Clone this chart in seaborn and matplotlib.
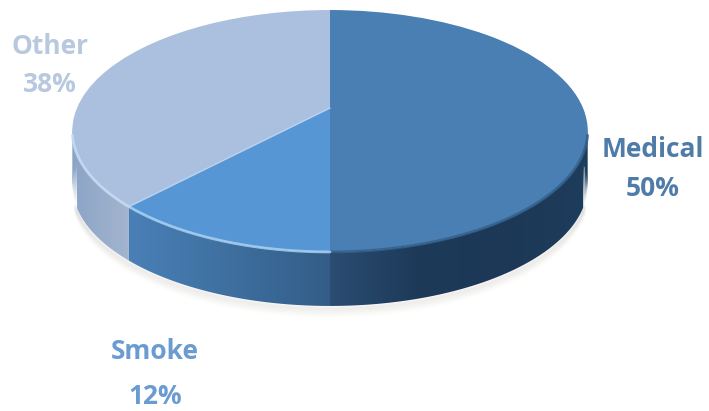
import numpy as np
import matplotlib
matplotlib.use('Agg')
import matplotlib.pyplot as plt
from matplotlib.patches import Polygon
from matplotlib.transforms import Transform
import seaborn as sns

labels = ['Medical', 'Smoke', 'Other']
shares = [50, 12, 38]
top_colors = ['#4a7fb3', '#5796d4', '#abc0df']
side_colors = [['#2b4d72', '#1d3a59', '#1c3856', '#1e3c5c'],
               ['#4a80b8', '#3e6f9f', '#335d88'],
               ['#8ba4c6', '#a3b5cf']]
rim_colors = ['#33608c', '#a9d0f2', '#c6dcf5']
text_colors = ['#4f7ba8', '#6a9bd1', '#b8c8de']

# pixel geometry of the tilted disc
APEX_X, APEX_Y = 330, 108
SCALE_X, SCALE_Y, TILT = 253, 116.6, 0.19
DEPTH = 54


class Tilt(Transform):
    # perspective of the flat pie, unit circle to pixels
    input_dims = output_dims = 2

    def transform_non_affine(self, values):
        values = np.asarray(values)
        d = 1 + TILT * values[:, 1]
        return np.column_stack([APEX_X + SCALE_X * values[:, 0] / d,
                                APEX_Y - SCALE_Y * values[:, 1] / d])


sns.set_theme(style='white')
plt.rcParams['font.family'] = ['Open Sans', 'DejaVu Sans']

fig = plt.figure(figsize=(7.09, 4.11), dpi=100)
ax = fig.add_axes([0, 0, 1, 1])
tilt = Tilt()

wedges, _ = ax.pie(shares, colors=top_colors, startangle=90, counterclock=False,
                   radius=1, wedgeprops={'linewidth': 0, 'zorder': 5})
for w in wedges:
    w.set_transform(tilt + ax.transData)


def front_arc(w, limit=0.0):
    t = np.radians(np.linspace(w.theta1, w.theta2, 300))
    t = t[np.sin(t) <= limit]
    return tilt.transform(np.column_stack([np.cos(t), np.sin(t)]))


# soft shadow under the disc
all_t = np.radians(np.linspace(200, 340, 400))
base = tilt.transform(np.column_stack([np.cos(all_t), np.sin(all_t)]))
for i in range(1, 9):
    ax.plot(base[:, 0], base[:, 1] + DEPTH + i * 1.3, color='#8a8478',
            lw=2.5, alpha=0.03 * (9 - i) / 4, zorder=1)

# side wall, one gradient per slice
for w, cols, rim in zip(wedges, side_colors, rim_colors):
    arc = front_arc(w)
    arc = arc[np.argsort(arc[:, 0])]
    wall = np.vstack([arc, arc[::-1] + [0, DEPTH]])
    cmap = sns.blend_palette(cols, as_cmap=True)
    grad = np.linspace(0, 1, 256).reshape(1, -1)
    im = ax.imshow(grad, cmap=cmap, aspect='auto', zorder=3,
                   extent=[arc[:, 0].min(), arc[:, 0].max(), arc[:, 1].max() + DEPTH, arc[:, 1].min()])
    im.set_clip_path(Polygon(wall, transform=ax.transData))
    # bevel along the top edge, stops short of the disc's widest points
    edge = front_arc(w, -0.22)
    edge = edge[np.argsort(edge[:, 0])]
    ax.plot(edge[:, 0], edge[:, 1], color=rim, lw=2.0, alpha=0.85, zorder=6)

# thin light seam between Smoke and Other
t = np.radians(wedges[1].theta1)
seam = tilt.transform(np.array([[0, 0], [np.cos(t), np.sin(t)]]))
ax.plot(seam[:, 0], seam[:, 1], color='#b9d3ee', lw=1.0, zorder=6)

# labels
label_xy = [(653, 149), (155, 351), (50, 46)]
value_xy = [(653, 188), (155, 396), (50, 84)]
for name, val, col, p1, p2 in zip(labels, shares, text_colors, label_xy, value_xy):
    ax.text(p1[0], p1[1], name, color=col, fontsize=19, fontweight='bold', ha='center', va='center')
    ax.text(p2[0], p2[1], f'{val}%', color=col, fontsize=19, fontweight='bold', ha='center', va='center')

ax.set_aspect('auto')
ax.set_xlim(0, 709)
ax.set_ylim(411, 0)
ax.axis('off')
fig.savefig('out.png', dpi=100)
